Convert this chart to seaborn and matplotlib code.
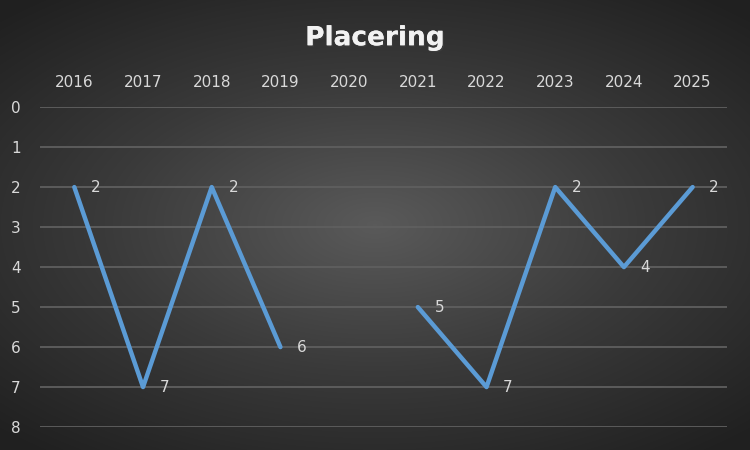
import numpy as np
import pandas as pd
import matplotlib.pyplot as plt
import matplotlib.patheffects as pe
import seaborn as sns

years = [2016, 2017, 2018, 2019, 2020, 2021, 2022, 2023, 2024, 2025]
placering = [2, 7, 2, 6, np.nan, 5, 7, 2, 4, 2]

df = pd.DataFrame({'year': years, 'placering': placering})
# split into segments so the missing year leaves a gap
df['segment'] = df['placering'].isna().cumsum()
df_plot = df.dropna()

sns.set_style('white')
fig = plt.figure(figsize=(7.5, 4.5), dpi=100)

# radial gradient background
bg = fig.add_axes([0, 0, 1, 1])
yy, xx = np.mgrid[-1:1:450j, -1:1:750j]
r = np.sqrt((xx * 0.9) ** 2 + (yy * 1.0) ** 2)
bg.imshow(r, cmap=sns.blend_palette(['#5a5a5a', '#3a3a3a', '#202020'], as_cmap=True),
          vmin=0, vmax=1.3, aspect='auto', extent=[0, 1, 0, 1])
bg.axis('off')

ax = fig.add_axes([0.0533, 0.051, 0.916, 0.711])
ax.patch.set_alpha(0)

sns.lineplot(data=df_plot, x='year', y='placering', units='segment', estimator=None,
             color='#5b9bd5', linewidth=3.2, ax=ax, solid_capstyle='round',
             solid_joinstyle='round', zorder=3)

for x, y in zip(years, placering):
    if not np.isnan(y):
        ax.annotate(f'{int(y)}', (x, y), xytext=(12, 0), textcoords='offset points',
                    ha='left', va='center', color='#d9d9d9', fontsize=11)

ax.set_xlim(2015.5, 2025.5)
ax.set_ylim(8, 0)
ax.set_yticks(range(0, 9))
ax.set_xticks(years)
ax.xaxis.tick_top()
ax.tick_params(axis='both', colors='#d9d9d9', labelsize=11, length=0)
ax.tick_params(axis='x', pad=12)
ax.tick_params(axis='y', pad=14)
ax.grid(axis='y', color='#5f5f5f', linewidth=1.3)
ax.grid(axis='x', visible=False)
for s in ax.spines.values():
    s.set_visible(False)
ax.set_xlabel('')
ax.set_ylabel('')

fig.text(0.5, 0.915, 'Placering', ha='center', va='center', color='#f2f2f2',
         fontsize=19, fontweight='bold',
         path_effects=[pe.withSimplePatchShadow(offset=(1, -1), alpha=0.4), pe.Normal()])

fig.savefig('out.png', dpi=100)
